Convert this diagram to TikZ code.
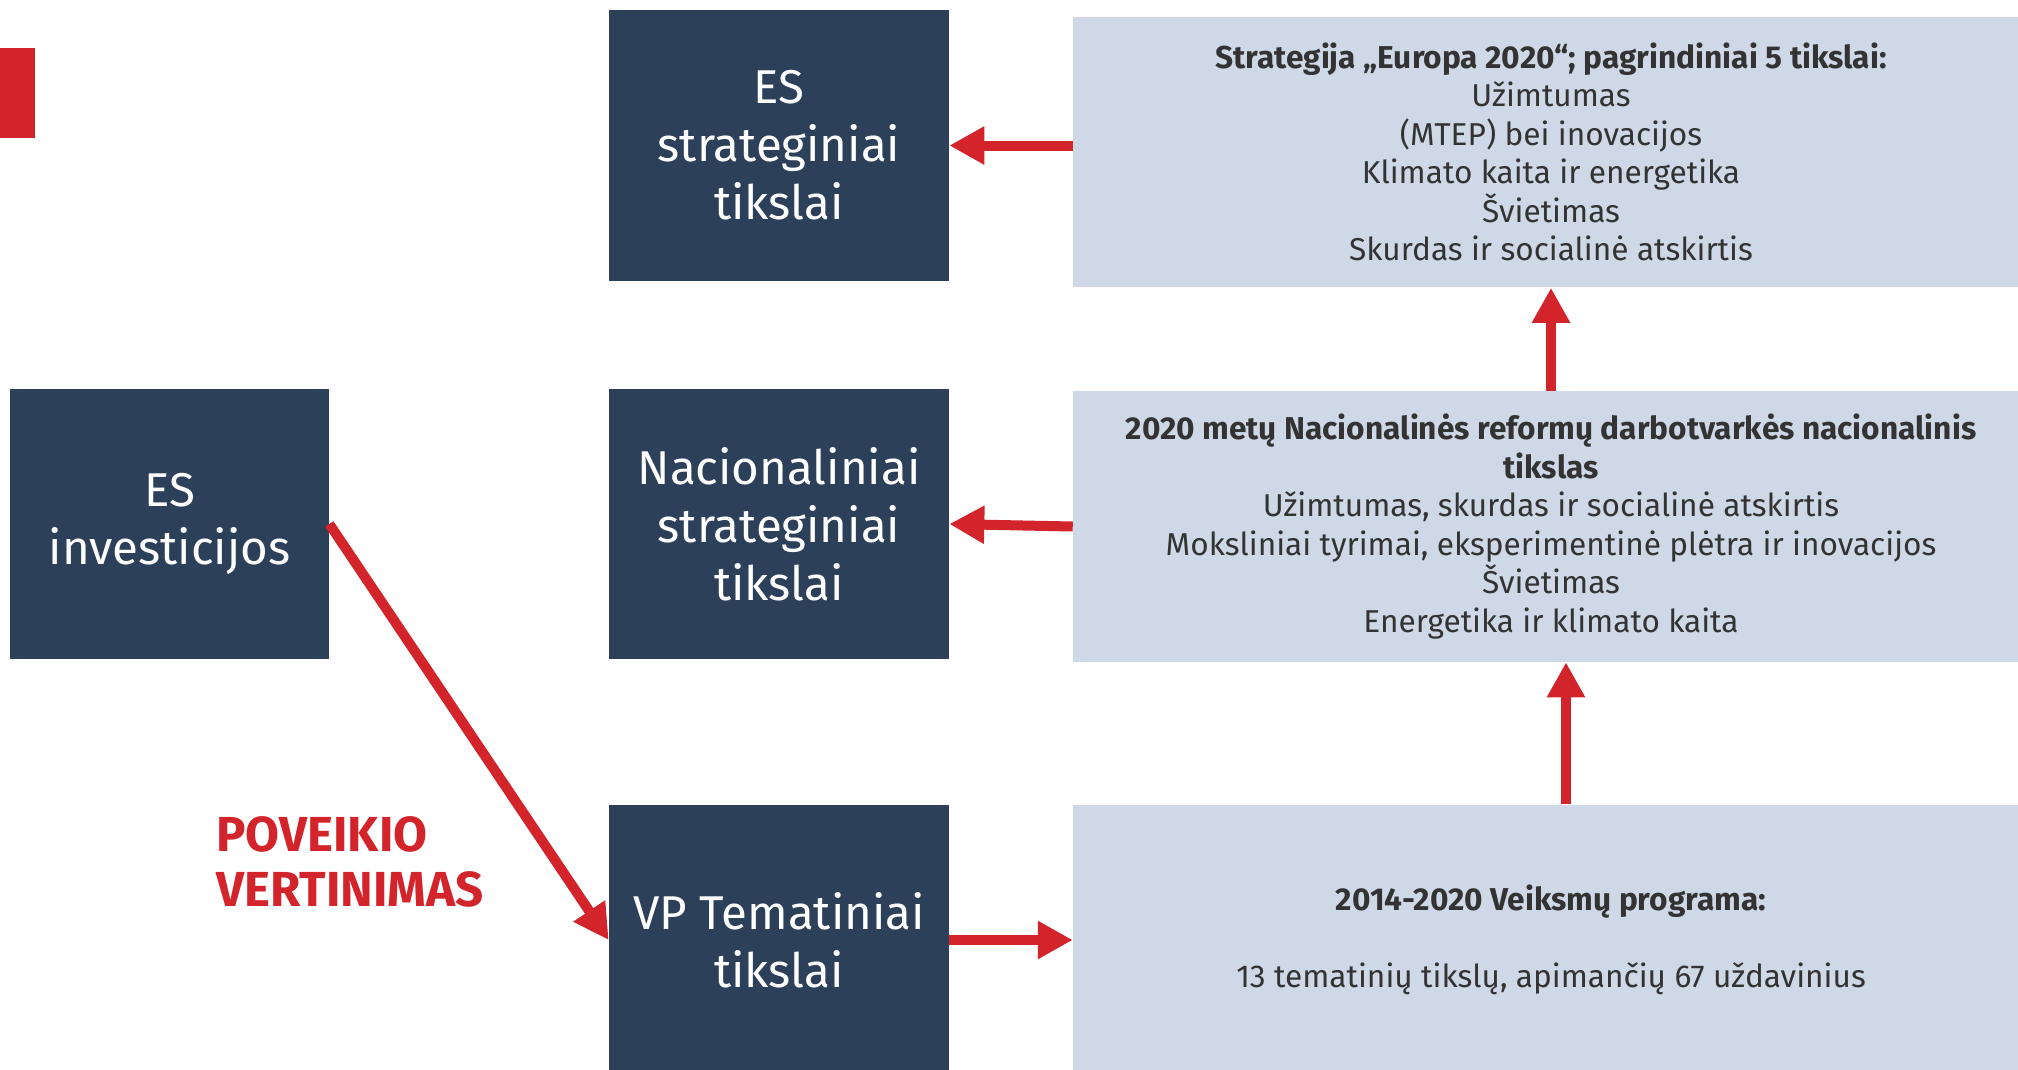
\documentclass[tikz,border=0pt]{standalone}
\usepackage{fontspec}
\setmainfont{Fira Sans}
\usetikzlibrary{arrows.meta}
\definecolor{navy}{HTML}{2D4059}
\definecolor{paleblue}{HTML}{CED8E6}
\definecolor{signalred}{HTML}{D3232B}
\definecolor{ink}{HTML}{333333}

\begin{document}
\begin{tikzpicture}[x=0.02cm,y=-0.02cm,
    darkbox/.style={fill=navy,text=white,minimum width=6.8cm,minimum height=5.42cm,
      align=center,inner sep=0pt,font=\fontsize{27}{33}\selectfont},
    lightbox/.style={fill=paleblue,text=ink,minimum width=19.12cm,minimum height=5.42cm,
      align=center,inner sep=0pt,font=\fontsize{18}{21.9}\selectfont},
    redarrow/.style={draw=signalred,line width=0.2cm,
      -{Triangle[width=0.72cm,length=0.7cm]}}]

    \useasboundingbox(0,0)rectangle(2018,1069);
    \clip(0,0)rectangle(2018,1069);

    % dark column
    \node[darkbox](esgoals)at(779,145.5){ES\\strateginiai\\tikslai};
    \node[darkbox,minimum width=6.38cm](esinvest)at(169.5,524){ES\\investicijos};
    \node[darkbox](natgoals)at(779,524){Nacionaliniai\\strateginiai\\tikslai};
    \node[darkbox](vpgoals)at(779,940){VP Tematiniai\\tikslai};

    % pale column
    \node[lightbox](europe)at(1551,152){%
      \textbf{Strategija „Europa 2020“; pagrindiniai 5 tikslai:}\\
      Užimtumas\\(MTEP) bei inovacijos\\Klimato kaita ir energetika\\
      Švietimas\\Skurdas ir socialinė atskirtis};
    \node[lightbox](reform)at(1551,526.5){%
      \textbf{2020 metų Nacionalinės reformų darbotvarkės nacionalinis}\\
      \textbf{tikslas}\\
      Užimtumas, skurdas ir socialinė atskirtis\\
      Moksliniai tyrimai, eksperimentinė plėtra ir inovacijos\\
      Švietimas\\Energetika ir klimato kaita};
    \node[lightbox](programme)at(1551,940){%
      \textbf{2014-2020 Veiksmų programa:}\\[22pt]
      13 tematinių tikslų, apimančių 67 uždavinius};

    \fill[signalred](0,48)rectangle(35,138);
    \node[text=signalred,align=left,anchor=west,inner sep=0pt,
      font=\bfseries\fontsize{28}{31}\selectfont](impact)at(216,862){POVEIKIO\\VERTINIMAS};

    \draw[redarrow](europe.west|-esgoals.east)--(esgoals.east);
    \draw[redarrow](reform.west)--(natgoals.east);
    \draw[redarrow](reform.north)--(europe.south);
    \draw[redarrow]([xshift=0.3cm]programme.north)--([xshift=0.3cm]reform.south);
    \draw[redarrow](vpgoals.east)--(programme.west);
    \draw[redarrow](esinvest.east)--(vpgoals.west);
  \end{tikzpicture}
\end{document}
